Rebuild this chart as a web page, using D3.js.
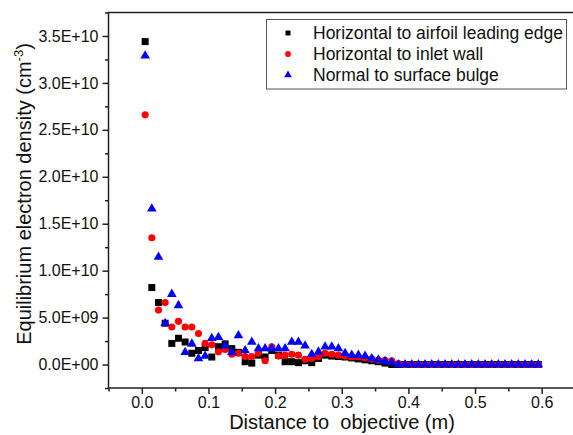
<!DOCTYPE html>
<html>
<head>
<meta charset="utf-8">
<script src="https://cdn.jsdelivr.net/npm/d3@7"></script>
<style>
  body { margin: 0; background: #fff; }
  svg { display: block; font-family: "Liberation Sans", Arial, sans-serif; }
</style>
</head>
<body>
<div id="chart"></div>
<script>
// distanza dall'obiettivo (m), passo 0.01
const distance = [
  0.005, 0.015, 0.025, 0.035, 0.045, 0.055, 0.065, 0.075, 0.085, 0.095,
  0.105, 0.115, 0.125, 0.135, 0.145, 0.155, 0.165, 0.175, 0.185, 0.195,
  0.205, 0.215, 0.225, 0.235, 0.245, 0.255, 0.265, 0.275, 0.285, 0.295,
  0.305, 0.315, 0.325, 0.335, 0.345, 0.355, 0.365, 0.375, 0.385, 0.395,
  0.405, 0.415, 0.425, 0.435, 0.445, 0.455, 0.465, 0.475, 0.485, 0.495,
  0.505, 0.515, 0.525, 0.535, 0.545, 0.555, 0.565, 0.575, 0.585, 0.595
];

// densità elettronica (cm^-3) per le tre direzioni
const leadingEdge = [
  34.4e9, 8.2e9, 6.6e9, 4.4e9, 2.25e9, 2.8e9, 2.4e9, 1.2e9, 1.5e9, 1.8e9,
  0.8e9, 1.9e9, 2.2e9, 1.7e9, 1.3e9, 0.3e9, 0.15e9, 1.0e9, 0.8e9, 1.5e9,
  1.0e9, 0.3e9, 0.3e9, 0.2e9, 0.4e9, 0.2e9, 0.65e9, 1.0e9, 0.9e9, 0.85e9,
  0.8e9, 0.7e9, 0.6e9, 0.5e9, 0.4e9, 0.3e9, 0.15e9, 0, 0, 0,
  0, 0, 0, 0, 0, 0, 0, 0, 0, 0,
  0, 0, 0, 0, 0, 0, 0, 0, 0, 0
];
const inletWall = [
  26.6e9, 13.5e9, 5.8e9, 6.6e9, 4.0e9, 4.6e9, 4.0e9, 4.0e9, 3.3e9, 2.25e9,
  2.1e9, 1.35e9, 1.6e9, 1.1e9, 1.2e9, 0.85e9, 0.85e9, 1.2e9, 0.4e9, 1.9e9,
  0.9e9, 1.0e9, 1.1e9, 1.0e9, 0.55e9, 0.65e9, 0.85e9, 1.2e9, 1.1e9, 1.0e9,
  0.9e9, 0.8e9, 0.8e9, 0.7e9, 0.6e9, 0.45e9, 0.45e9, 0.4e9, 0.1e9, 0,
  0, 0, 0, 0, 0, 0, 0, 0, 0, 0,
  0, 0, 0, 0, 0, 0, 0, 0, 0, 0
];
const surfaceBulge = [
  32.9e9, 16.6e9, 11.45e9, 4.4e9, 7.5e9, 6.3e9, 1.3e9, 2.2e9, 0.65e9, 0.9e9,
  2.8e9, 2.9e9, 2.0e9, 1.3e9, 3.1e9, 1.5e9, 2.4e9, 1.7e9, 1.7e9, 1.7e9,
  1.7e9, 1.7e9, 2.4e9, 2.4e9, 2.0e9, 1.1e9, 1.35e9, 1.9e9, 1.9e9, 1.7e9,
  1.2e9, 1.0e9, 1.0e9, 0.9e9, 0.65e9, 0.5e9, 0.35e9, 0.25e9, 0, 0,
  0, 0, 0, 0, 0, 0, 0, 0, 0, 0,
  0, 0, 0, 0, 0, 0, 0, 0, 0, 0
];

const seriesNames = [
  'Horizontal to airfoil leading edge',
  'Horizontal to inlet wall',
  'Normal to surface bulge'
];
const seriesColors = ['#000000', '#ff0000', '#0000ff'];

const xMajorTicks = [0, 0.1, 0.2, 0.3, 0.4, 0.5, 0.6];
const xMinorTicks = [-0.05, 0.05, 0.15, 0.25, 0.35, 0.45, 0.55];
const yMajorTicks = [0, 5e9, 1e10, 1.5e10, 2e10, 2.5e10, 3e10, 3.5e10];
const yMinorTicks = [-2.5e9, 2.5e9, 7.5e9, 1.25e10, 1.75e10, 2.25e10, 2.75e10, 3.25e10, 3.75e10];

const width = 573, height = 435;
const plot = { left: 108.5, right: 575, top: 12.5, bottom: 388 };

const svg = d3.select('#chart').append('svg')
  .attr('width', width)
  .attr('height', height);

const x = d3.scaleLinear().domain([-0.05, 0.65]).range([plot.left, plot.right]);
const y = d3.scaleLinear().domain([-2.5e9, 3.75e10]).range([plot.bottom, plot.top]);

// formato tipo Origin: 3.5E+10
const sciFormat = d => {
  if (d === 0) return '0.0E+00';
  const e = Math.floor(Math.log10(Math.abs(d)));
  const m = d / Math.pow(10, e);
  return `${m.toFixed(1)}E+${String(e).padStart(2, '0')}`;
};

const axisColor = '#222';

// assi: tick maggiori con etichette, minori senza
const xMajor = svg.append('g')
  .attr('transform', `translate(0,${plot.bottom})`)
  .call(d3.axisBottom(x).tickValues(xMajorTicks).tickSize(6).tickSizeOuter(0).tickPadding(3)
    .tickFormat(d3.format('.1f')));
const xMinor = svg.append('g')
  .attr('transform', `translate(0,${plot.bottom})`)
  .call(d3.axisBottom(x).tickValues(xMinorTicks).tickSize(3.5).tickSizeOuter(0).tickFormat(''));
const yMajor = svg.append('g')
  .attr('transform', `translate(${plot.left},0)`)
  .call(d3.axisLeft(y).tickValues(yMajorTicks).tickSize(6).tickSizeOuter(0).tickPadding(4)
    .tickFormat(sciFormat));
const yMinor = svg.append('g')
  .attr('transform', `translate(${plot.left},0)`)
  .call(d3.axisLeft(y).tickValues(yMinorTicks).tickSize(3.5).tickSizeOuter(0).tickFormat(''));

[xMajor, xMinor, yMajor, yMinor].forEach(a => {
  a.select('.domain').remove();
  a.selectAll('line').attr('stroke', axisColor).attr('stroke-width', 1.5);
  a.selectAll('text').attr('fill', '#111').style('font-size', '16px');
});

// cornice (il lato destro esce dall'immagine)
svg.append('path')
  .attr('d', `M${plot.right},${plot.top}H${plot.left}V${plot.bottom}H${plot.right}`)
  .attr('fill', 'none')
  .attr('stroke', axisColor)
  .attr('stroke-width', 1.5);

// titoli degli assi
svg.append('text')
  .attr('x', 342)
  .attr('y', 429)
  .attr('text-anchor', 'middle')
  .style('font-size', '20px')
  .style('white-space', 'pre')
  .attr('fill', '#111')
  .text('Distance to  objective (m)');

const yTitle = svg.append('text')
  .attr('transform', 'translate(31,194) rotate(-90)')
  .attr('text-anchor', 'middle')
  .style('font-size', '20px')
  .attr('fill', '#111');
yTitle.append('tspan').text('Equilibrium electron density (cm');
yTitle.append('tspan').attr('dy', -8).style('font-size', '13px').text('-3');
yTitle.append('tspan').attr('dy', 8).text(')');

// simboli: quadrato, cerchio, triangolo
const symbolTypes = [d3.symbolSquare, d3.symbolCircle, d3.symbolTriangle];
const symbolSizes = [49, 40, 40];
const allSeries = [leadingEdge, inletWall, surfaceBulge];

allSeries.forEach((values, s) => {
  const pts = distance.map((d, i) => ({ x: d, v: values[i] }));
  svg.append('g')
    .selectAll('path')
    .data(pts)
    .join('path')
    .attr('transform', d => `translate(${x(d.x)},${y(d.v)})`)
    .attr('d', d3.symbol().type(symbolTypes[s]).size(symbolSizes[s]))
    .attr('fill', seriesColors[s]);
});

// legenda
const legend = svg.append('g');
legend.append('rect')
  .attr('x', 266.5).attr('y', 19.5)
  .attr('width', 300).attr('height', 69.5)
  .attr('fill', '#fff')
  .attr('stroke', '#555')
  .attr('stroke-width', 1);

const legendSizes = [25, 26, 26];
seriesNames.forEach((name, i) => {
  const cy = 33 + i * 21;
  legend.append('path')
    .attr('transform', `translate(288,${cy})`)
    .attr('d', d3.symbol().type(symbolTypes[i]).size(legendSizes[i]))
    .attr('fill', seriesColors[i]);
  legend.append('text')
    .attr('x', 313).attr('y', cy + 6)
    .style('font-size', '17.5px')
    .attr('fill', '#111')
    .text(name);
});
</script>
</body>
</html>
